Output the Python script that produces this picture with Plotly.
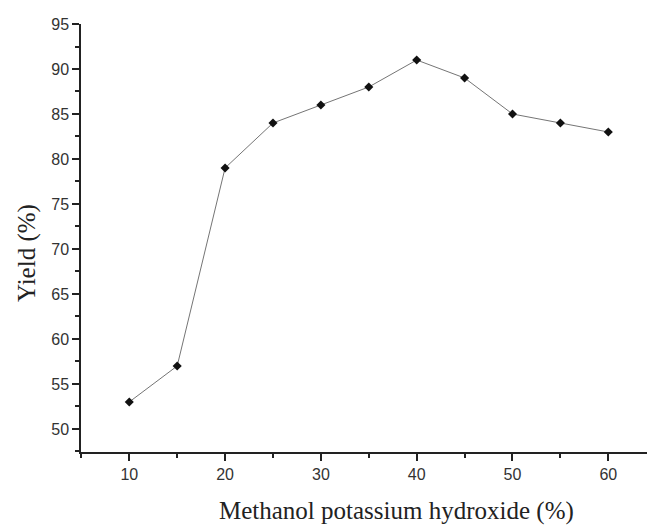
import plotly.graph_objects as go

x_vals = [10, 15, 20, 25, 30, 35, 40, 45, 50, 55, 60]
yield_vals = [53, 57, 79, 84, 86, 88, 91, 89, 85, 84, 83]
x_title = "Methanol potassium hydroxide (%)"
y_title = "Yield (%)"

fig = go.Figure()
fig.add_trace(go.Scatter(
    x=x_vals, y=yield_vals, mode="lines+markers",
    line=dict(color="#757575", width=1),
    marker=dict(symbol="diamond", size=7, color="#111111"),
    showlegend=False,
))

axis_common = dict(
    showline=True, linecolor="#222222", linewidth=1.5,
    ticks="outside", tickcolor="#222222", tickwidth=1.5, ticklen=7,
    showgrid=False, zeroline=False,
    tickfont=dict(family="Liberation Sans, Arial, sans-serif", size=16, color="#333333"),
)

W, H = 647, 525
L, R, T, B = 81, 0, 24, 73
pw, ph = W - L - R, H - T - B

fig.update_layout(
    width=W, height=H,
    margin=dict(l=L, r=R, t=T, b=B, autoexpand=False),
    paper_bgcolor="white", plot_bgcolor="white",
    xaxis=dict(range=[4.96, 64.04], tick0=0, dtick=10,
               minor=dict(dtick=5, tick0=0, ticks="outside", ticklen=4,
                          tickcolor="#222222", tickwidth=1.5),
               **axis_common),
    yaxis=dict(range=[47.44, 95], tick0=50, dtick=5,
               minor=dict(dtick=2.5, tick0=50, ticks="outside", ticklen=4,
                          tickcolor="#222222", tickwidth=1.5),
               **axis_common),
    annotations=[
        dict(text=x_title, xref="paper", yref="paper",
             x=(396.5 - L) / pw, y=-(511 - (H - B)) / ph,
             xanchor="center", yanchor="middle", showarrow=False,
             font=dict(family="Liberation Serif, Times New Roman, serif", size=25, color="#222222")),
        dict(text=y_title, xref="paper", yref="paper",
             x=-(L - 27) / pw, y=((H - B) - 253) / ph,
             xanchor="center", yanchor="middle", showarrow=False, textangle=-90,
             font=dict(family="Liberation Serif, Times New Roman, serif", size=25, color="#222222")),
    ],
)

fig.write_html("out.html", config={"displayModeBar": False},
               post_script="document.body.style.margin='0';document.body.style.overflow='hidden';")
